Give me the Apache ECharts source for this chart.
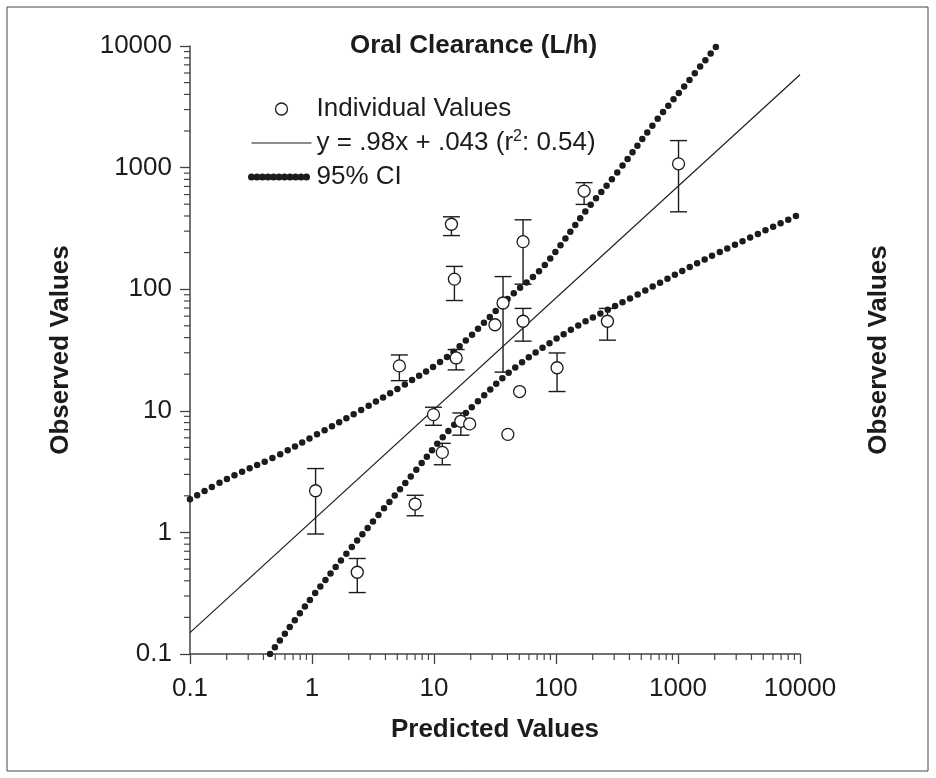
<!DOCTYPE html>
<html><head><meta charset="utf-8">
<script src="https://cdn.jsdelivr.net/npm/echarts@6/dist/echarts.min.js"></script>
<style>html,body{margin:0;padding:0;background:#fff}#c{width:936px;height:778px}</style>
</head><body><div id="c"></div>
<script>
// Individual values (predicted vs observed) with error bars
const predicted = [1.07, 2.35, 7.0, 5.2, 9.9, 11.7, 13.9, 14.7, 15.2, 16.6, 19.6, 31.6, 36.8, 40.3, 50.3, 53.7, 53.7, 102, 170, 264, 1010];
const observed  = [2.2, 0.47, 1.71, 23.4, 9.3, 4.55, 342, 121, 27.2, 8.2, 7.8, 51, 77, 6.4, 14.4, 246, 54.5, 22.6, 641, 54.5, 1074];
const errLow    = [0.97, 0.32, 1.37, 17.7, 7.6, 3.6, 276, 80.7, 21.7, 6.3, null, null, 20.8, null, null, 110, 37.4, 14.4, 498, 38.1, 433];
const errHigh   = [3.35, 0.61, 2.02, 28.8, 10.7, 5.4, 394, 154, 31.9, 9.6, null, null, 127, null, null, 372, 69.5, 29.9, 752, 69.5, 1668];

// Regression line end points
const fitX = [0.1, 10000];
const fitY = [0.15, 5800];

// 95% CI curves (read along the dotted bands)
const ciUpperX = [0.1, 0.206, 0.50, 1.13, 2.55, 5.4, 11.6, 19.1, 42, 78.7, 178, 314, 669, 1178, 2075];
const ciUpperY = [1.87, 2.79, 4.2, 6.5, 10.2, 15.8, 25.8, 39.5, 86.8, 153, 448, 898, 2460, 4930, 10000];
const ciLowerX = [0.453, 0.96, 1.92, 3.61, 6.77, 12.9, 23.8, 47, 139, 488, 1718, 9300];
const ciLowerY = [0.1, 0.278, 0.67, 1.44, 3.06, 6.7, 12.4, 23, 47.7, 92.5, 179, 400];

// Axis tick labels
const xTickLabels = ['0.1', '1', '10', '100', '1000', '10000'];
const yTickLabels = ['0.1', '1', '10', '100', '1000', '10000'];
const minorMultipliers = [2, 3, 4, 5, 6, 7, 8, 9];

const FONT = '"Liberation Sans", Arial, Helvetica, sans-serif';
const INK = '#1c1c1c';

const scatterData = predicted.map((x, i) => [x, observed[i]]);
const errData = [];
predicted.forEach((x, i) => { if (errLow[i] != null) errData.push([x, errLow[i], errHigh[i]]); });
const fitData = fitX.map((x, i) => [x, fitY[i]]);
const upperData = ciUpperX.map((x, i) => [x, ciUpperY[i]]);
const lowerData = ciLowerX.map((x, i) => [x, ciLowerY[i]]);

const decadeVals = xTickLabels.map(Number);
const minorVals = [];
decadeVals.slice(0, -1).forEach(d => minorMultipliers.forEach(m => minorVals.push(+(d * m).toPrecision(6))));
const axMin = decadeVals[0];

function labelFmt(arr) {
  return function (v) { const i = Math.round(Math.log10(v)) + 1; return arr[i] != null ? arr[i] : ''; };
}

const FIT_NAME = 'y = .98x + .043 (r²: 0.54)';

const option = {
  backgroundColor: '#fff',
  animation: false,
  color: [INK],
  title: {
    text: 'Oral Clearance (L/h)',
    left: 345, top: 28,
    textStyle: { fontFamily: FONT, fontSize: 26, fontWeight: 'bold', color: INK }
  },
  graphic: [{
    type: 'rect', shape: { x: 7, y: 7, width: 921, height: 764 },
    style: { fill: 'none', stroke: '#444', lineWidth: 1 }, silent: true
  }],
  legend: {
    orient: 'vertical', left: 243, top: 90, itemGap: 6,
    itemWidth: 60, itemHeight: 12, selectedMode: false,
    textStyle: {
      fontFamily: FONT, fontSize: 26, color: INK, lineHeight: 28,
      rich: { sup: { fontFamily: FONT, fontSize: 16, color: INK, verticalAlign: 'top', lineHeight: 24 } }
    },
    formatter: function (name) { return name.replace('²', '{sup|2}'); },
    data: [
      { name: 'Individual Values', icon: 'circle', itemStyle: { color: '#fff', borderColor: INK, borderWidth: 1.3 } },
      { name: FIT_NAME, itemStyle: { color: INK, opacity: 0 }, lineStyle: { color: INK, width: 1.2, type: 'solid' } },
      { name: '95% CI', itemStyle: { color: INK, opacity: 0 }, lineStyle: { color: INK, width: 7, type: [0, 5.5], cap: 'round' } }
    ]
  },
  grid: { left: 190, right: 136, top: 46, bottom: 124 },
  xAxis: {
    type: 'log', logBase: 10, min: 0.1, max: 10000,
    name: 'Predicted Values', nameLocation: 'middle', nameGap: 63,
    nameTextStyle: { fontFamily: FONT, fontSize: 26, fontWeight: 'bold', color: INK },
    axisLine: { show: true, lineStyle: { color: '#444', width: 1.5 } },
    axisTick: { show: true, inside: false, length: 10, lineStyle: { color: '#444', width: 1.3 } },
    axisLabel: { margin: 22, fontFamily: FONT, fontSize: 26, color: INK, formatter: labelFmt(xTickLabels), showMinLabel: true, showMaxLabel: true },
    splitLine: { show: false }
  },
  yAxis: [{
    type: 'log', logBase: 10, min: 0.1, max: 10000,
    name: 'Observed Values', nameLocation: 'middle', nameRotate: 90, nameGap: 116,
    nameTextStyle: { fontFamily: FONT, fontSize: 26, fontWeight: 'bold', color: INK },
    axisLine: { show: true, lineStyle: { color: '#444', width: 1.5 } },
    axisTick: { show: true, inside: false, length: 10, lineStyle: { color: '#444', width: 1.3 } },
    axisLabel: { margin: 18, fontFamily: FONT, fontSize: 26, color: INK, formatter: labelFmt(yTickLabels), showMinLabel: true, showMaxLabel: true },
    splitLine: { show: false }
  }, {
    type: 'log', logBase: 10, min: 0.1, max: 10000, position: 'right',
    name: 'Observed Values', nameLocation: 'middle', nameRotate: 90, nameGap: 66,
    nameTextStyle: { fontFamily: FONT, fontSize: 26, fontWeight: 'bold', color: INK },
    axisLine: { show: false }, axisTick: { show: false }, axisLabel: { show: false }, splitLine: { show: false }
  }],
  series: [
    {
      name: '95% CI', type: 'line', data: upperData, smooth: 0.35, symbol: 'none', z: 2,
      itemStyle: { color: INK },
      lineStyle: { color: INK, width: 6.5, type: [0, 8.4], cap: 'round' }
    },
    {
      name: '95% CI', type: 'line', data: lowerData, smooth: 0.35, symbol: 'none', z: 2,
      itemStyle: { color: INK },
      lineStyle: { color: INK, width: 6.5, type: [0, 8.4], cap: 'round' }
    },
    {
      name: FIT_NAME, type: 'line', data: fitData, symbol: 'none', z: 3,
      itemStyle: { color: INK },
      lineStyle: { color: INK, width: 1.2 }
    },
    {
      name: 'errorbars', type: 'custom', data: errData, z: 4, clip: false,
      renderItem: function (params, api) {
        const x = api.value(0);
        const lo = api.coord([x, api.value(1)]);
        const hi = api.coord([x, api.value(2)]);
        const w = 8.5;
        const st = { stroke: INK, lineWidth: 1.4, fill: 'none' };
        return {
          type: 'group', children: [
            { type: 'line', shape: { x1: lo[0], y1: lo[1], x2: hi[0], y2: hi[1] }, style: st },
            { type: 'line', shape: { x1: lo[0] - w, y1: lo[1], x2: lo[0] + w, y2: lo[1] }, style: st },
            { type: 'line', shape: { x1: hi[0] - w, y1: hi[1], x2: hi[0] + w, y2: hi[1] }, style: st }
          ]
        };
      }
    },
    {
      name: 'Individual Values', type: 'scatter', data: scatterData, z: 5,
      symbol: 'circle', symbolSize: 12,
      itemStyle: { color: '#fff', borderColor: INK, borderWidth: 1.3, opacity: 1 }
    },
    {
      name: 'xminor', type: 'custom', clip: false, silent: true, z: 1,
      data: minorVals.map(v => [v, axMin]),
      renderItem: function (params, api) {
        const p = api.coord([api.value(0), api.value(1)]);
        return { type: 'line', shape: { x1: p[0], y1: p[1], x2: p[0], y2: p[1] + 6 }, style: { stroke: '#444', lineWidth: 1.2 } };
      }
    },
    {
      name: 'yminor', type: 'custom', clip: false, silent: true, z: 1,
      data: minorVals.map(v => [axMin, v]),
      renderItem: function (params, api) {
        const p = api.coord([api.value(0), api.value(1)]);
        return { type: 'line', shape: { x1: p[0], y1: p[1], x2: p[0] - 6, y2: p[1] }, style: { stroke: '#444', lineWidth: 1.2 } };
      }
    }
  ]
};

const chart = echarts.init(document.getElementById('c'), null, { renderer: 'canvas' });
chart.setOption(option);
</script>
</body></html>
